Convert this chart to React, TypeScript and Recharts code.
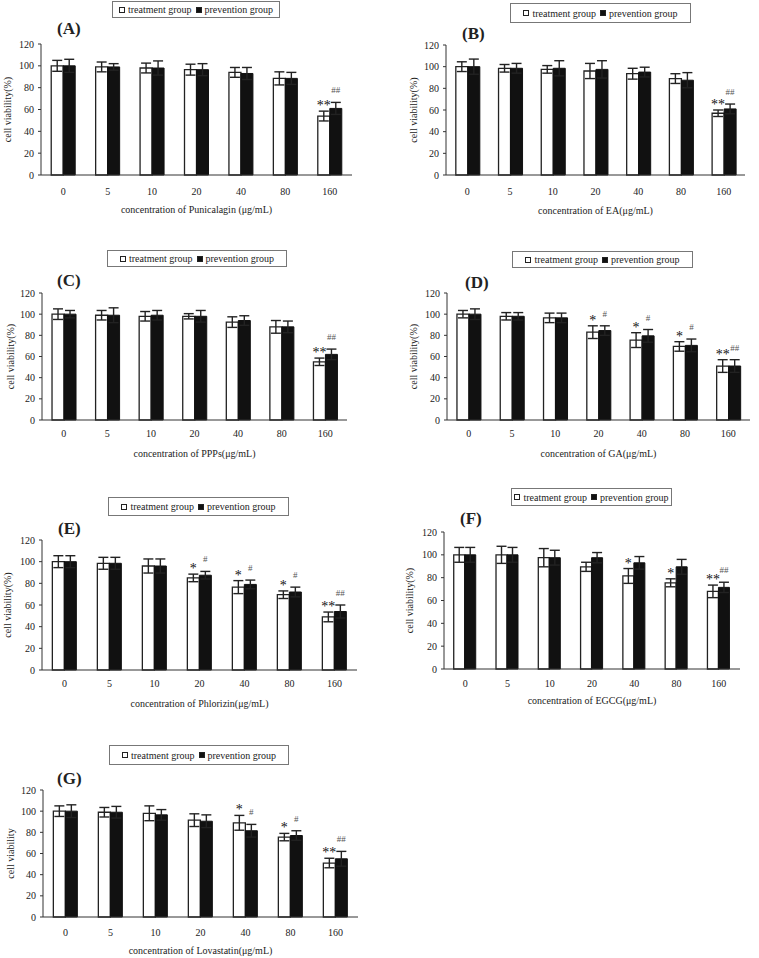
import { BarChart, Bar, XAxis, YAxis, ErrorBar, LabelList, Legend } from 'recharts'

const concentrations = ['0', '5', '10', '20', '40', '80', '160']
const yTicks = [0, 20, 40, 60, 80, 100, 120]
const seriesNames = ['treatment group', 'prevention group']

// (A) Punicalagin
const punTreat = [100, 99, 98, 96.5, 94, 88.5, 54]
const punTreatErr = [5, 4.5, 4.5, 5, 4.5, 6, 4.5]
const punPrev = [100, 99, 98, 96.5, 93, 88.5, 61]
const punPrevErr = [6, 3, 6.5, 5.5, 5.5, 5.5, 5.5]
const punTreatMark = ['', '', '', '', '', '', '**']
const punPrevMark = ['', '', '', '', '', '', '##']

// (B) EA
const eaTreat = [100, 98.5, 97.5, 96, 93.5, 89, 57]
const eaTreatErr = [4.5, 3.5, 3.5, 7, 5, 4.5, 3]
const eaPrev = [100, 98.5, 98.5, 97.5, 95, 87.5, 61]
const eaPrevErr = [7, 4.5, 7, 8, 4.5, 7, 4.5]
const eaTreatMark = ['', '', '', '', '', '', '**']
const eaPrevMark = ['', '', '', '', '', '', '##']

// (C) PPPs
const pppTreat = [100, 99, 98, 98, 92.5, 88, 55]
const pppTreatErr = [5, 4.5, 4.5, 2.5, 5, 6, 3.5]
const pppPrev = [100, 99, 99, 98, 94, 88, 62]
const pppPrevErr = [3.5, 7, 4.5, 5.5, 4.5, 5.5, 5]
const pppTreatMark = ['', '', '', '', '', '', '**']
const pppPrevMark = ['', '', '', '', '', '', '##']

// (D) GA
const gaTreat = [100, 98, 96.5, 83, 75.5, 69.5, 51]
const gaTreatErr = [3.5, 3.5, 4.5, 6, 7, 4.5, 6]
const gaPrev = [100, 98, 96.5, 84.5, 79.5, 70.5, 51]
const gaPrevErr = [5, 3.5, 4.5, 4.5, 6, 6, 6]
const gaTreatMark = ['', '', '', '*', '*', '*', '**']
const gaPrevMark = ['', '', '', '#', '#', '#', '##']

// (E) Phlorizin
const phlTreat = [100, 98.5, 96, 85, 76.5, 69.5, 49]
const phlTreatErr = [5.5, 5.5, 6.5, 3.5, 6, 3.5, 4.5]
const phlPrev = [100, 98.5, 96, 87.5, 79, 72, 54]
const phlPrevErr = [5.5, 5.5, 6.5, 3.5, 4, 4.5, 6]
const phlTreatMark = ['', '', '', '*', '*', '*', '**']
const phlPrevMark = ['', '', '', '#', '#', '#', '##']

// (F) EGCG
const egcgTreat = [100, 100, 97.5, 89.5, 81.5, 75.5, 68]
const egcgTreatErr = [6.5, 7.5, 8, 4, 6.5, 3.5, 5.5]
const egcgPrev = [100, 100, 97.5, 97.5, 93, 89.5, 71.5]
const egcgPrevErr = [6.5, 6.5, 6.5, 4.5, 5.5, 6.5, 4.5]
const egcgTreatMark = ['', '', '', '', '*', '*', '**']
const egcgPrevMark = ['', '', '', '', '', '', '##']

// (G) Lovastatin
const lovTreat = [100, 99, 98, 91.5, 89, 75.5, 51]
const lovTreatErr = [5, 4.5, 7, 6, 7, 3.5, 4.5]
const lovPrev = [100, 99, 96.5, 90.5, 81.5, 77, 55]
const lovPrevErr = [6, 5.5, 5, 6, 6, 4.5, 7]
const lovTreatMark = ['', '', '', '', '*', '*', '**']
const lovPrevMark = ['', '', '', '', '#', '#', '##']

const FONT = '"Liberation Serif", "Times New Roman", serif'
const INK = '#222'

type Row = {
  c: string
  treat: number
  treatErr: number
  prev: number
  prevErr: number
  treatMark: string
  prevMark: string
}

type PanelDef = {
  letter: string
  xTitle: string
  yTitle: string
  treat: number[]
  treatErr: number[]
  prev: number[]
  prevErr: number[]
  treatMark: string[]
  prevMark: string[]
  box: { left: number; top: number; width: number; height: number }
  plot: { x0: number; x1: number; yTop: number; yBot: number }
  legend: { left: number; top: number; width: number; height: number }
  letterPos: { x: number; y: number }
  tickY: number
  titleY: number
  yLabelX: number
}

const panels: PanelDef[] = [
  {
    letter: 'A', xTitle: 'concentration of Punicalagin (μg/mL)', yTitle: 'cell viability(%)',
    treat: punTreat, treatErr: punTreatErr, prev: punPrev, prevErr: punPrevErr, treatMark: punTreatMark, prevMark: punPrevMark,
    box: { left: 0, top: 0, width: 380, height: 220 },
    plot: { x0: 41, x1: 352, yTop: 44, yBot: 175 },
    legend: { left: 112, top: 1, width: 168, height: 17 },
    letterPos: { x: 57, y: 23 }, tickY: 191, titleY: 209, yLabelX: 7,
  },
  {
    letter: 'B', xTitle: 'concentration of EA(μg/mL)', yTitle: 'cell viability(%)',
    treat: eaTreat, treatErr: eaTreatErr, prev: eaPrev, prevErr: eaPrevErr, treatMark: eaTreatMark, prevMark: eaPrevMark,
    box: { left: 380, top: 0, width: 379, height: 220 },
    plot: { x0: 446, x1: 745, yTop: 45, yBot: 175 },
    legend: { left: 510, top: 3, width: 181, height: 20 },
    letterPos: { x: 462, y: 28 }, tickY: 191, titleY: 210, yLabelX: 413,
  },
  {
    letter: 'C', xTitle: 'concentration of PPPs(μg/mL)', yTitle: 'cell viability(%)',
    treat: pppTreat, treatErr: pppTreatErr, prev: pppPrev, prevErr: pppPrevErr, treatMark: pppTreatMark, prevMark: pppPrevMark,
    box: { left: 0, top: 240, width: 380, height: 225 },
    plot: { x0: 42, x1: 347, yTop: 293, yBot: 420 },
    legend: { left: 107, top: 250, width: 180, height: 17 },
    letterPos: { x: 57, y: 275 }, tickY: 433, titleY: 453, yLabelX: 10,
  },
  {
    letter: 'D', xTitle: 'concentration of GA(μg/mL)', yTitle: 'cell viability(%)',
    treat: gaTreat, treatErr: gaTreatErr, prev: gaPrev, prevErr: gaPrevErr, treatMark: gaTreatMark, prevMark: gaPrevMark,
    box: { left: 380, top: 240, width: 379, height: 225 },
    plot: { x0: 447, x1: 750, yTop: 293, yBot: 420 },
    legend: { left: 512, top: 251, width: 181, height: 17 },
    letterPos: { x: 465, y: 277 }, tickY: 433, titleY: 453, yLabelX: 413,
  },
  {
    letter: 'E', xTitle: 'concentration of Phlorizin(μg/mL)', yTitle: 'cell viability(%)',
    treat: phlTreat, treatErr: phlTreatErr, prev: phlPrev, prevErr: phlPrevErr, treatMark: phlTreatMark, prevMark: phlPrevMark,
    box: { left: 0, top: 480, width: 380, height: 235 },
    plot: { x0: 42, x1: 357, yTop: 540, yBot: 670 },
    legend: { left: 108, top: 497, width: 181, height: 19 },
    letterPos: { x: 58, y: 523 }, tickY: 683, titleY: 703, yLabelX: 7,
  },
  {
    letter: 'F', xTitle: 'concentration of EGCG(μg/mL)', yTitle: 'cell viability(%)',
    treat: egcgTreat, treatErr: egcgTreatErr, prev: egcgPrev, prevErr: egcgPrevErr, treatMark: egcgTreatMark, prevMark: egcgPrevMark,
    box: { left: 380, top: 480, width: 379, height: 235 },
    plot: { x0: 444, x1: 740, yTop: 532, yBot: 669 },
    legend: { left: 511, top: 488, width: 161, height: 18 },
    letterPos: { x: 460, y: 513 }, tickY: 683, titleY: 700, yLabelX: 409,
  },
  {
    letter: 'G', xTitle: 'concentration of Lovastatin(μg/mL)', yTitle: 'cell viability',
    treat: lovTreat, treatErr: lovTreatErr, prev: lovPrev, prevErr: lovPrevErr, treatMark: lovTreatMark, prevMark: lovPrevMark,
    box: { left: 0, top: 730, width: 380, height: 228 },
    plot: { x0: 43, x1: 358, yTop: 790, yBot: 917 },
    legend: { left: 109, top: 745, width: 180, height: 20 },
    letterPos: { x: 57, y: 773 }, tickY: 932, titleY: 950, yLabelX: 10,
  },
]

// significance marks sit a little above the error bar cap
const markLabel = (rows: Row[], valKey: 'treat' | 'prev', errKey: 'treatErr' | 'prevErr') => (props: any) => {
  const vb = props.viewBox ?? props
  const { x, y, width, height } = vb
  const value = props.value
  if (!value || x == null) return null
  const row = rows[props.index]
  if (!row) return null
  const ppu = Math.abs(height) / row[valKey]
  const capY = y - row[errKey] * ppu
  const isStar = String(value).includes('*')
  return (
    <text
      x={x + width / 2}
      y={isStar ? capY - 1 : capY - 9}
      textAnchor="middle"
      fontFamily={FONT}
      fontSize={isStar ? 14 : 9}
      fill={isStar ? '#111' : '#555'}
    >
      {value}
    </text>
  )
}

const LegendBox = ({ width, height }: { width: number; height: number }) => (
  <div
    style={{
      width, height, boxSizing: 'border-box', border: '1px solid #777', background: '#fff',
      display: 'flex', alignItems: 'center', justifyContent: 'center',
      fontFamily: FONT, fontSize: 10, color: INK, whiteSpace: 'nowrap',
    }}
  >
    {seriesNames.map((name, i) => (
      <span key={name} style={{ display: 'flex', alignItems: 'center', marginRight: i === 0 ? 4 : 0 }}>
        <span
          style={{
            display: 'inline-block', width: 6, height: 6, boxSizing: 'border-box',
            border: `1.5px solid ${INK}`, background: i === 0 ? '#fff' : '#111', marginRight: 3,
          }}
        />
        {name}
      </span>
    ))}
  </div>
)

function Panel({ p }: { p: PanelDef }) {
  const rows: Row[] = concentrations.map((c, i) => ({
    c,
    treat: p.treat[i],
    treatErr: p.treatErr[i],
    prev: p.prev[i],
    prevErr: p.prevErr[i],
    treatMark: p.treatMark[i],
    prevMark: p.prevMark[i],
  }))
  const { box, plot } = p
  const yAxisW = plot.x0 - box.left
  const xAxisH = box.top + box.height - plot.yBot
  const tickStyle = { fill: INK, fontSize: 10, fontFamily: FONT }

  return (
    <div style={{ position: 'absolute', left: box.left, top: box.top, width: box.width, height: box.height }}>
      <BarChart
        width={box.width}
        height={box.height}
        data={rows}
        margin={{ top: plot.yTop - box.top, right: box.left + box.width - plot.x1, bottom: 0, left: 0 }}
        barCategoryGap="23%"
        barGap={0}
      >
        <XAxis
          dataKey="c"
          height={xAxisH}
          axisLine={{ stroke: '#333' }}
          tickLine={false}
          tickSize={0}
          tickMargin={p.tickY - 3.5 - plot.yBot}
          tick={tickStyle}
          interval={0}
          label={{
            value: p.xTitle,
            position: 'insideBottom',
            offset: box.top + box.height - (p.titleY + 3.5),
            style: { fill: INK, fontSize: 10, fontFamily: FONT },
          }}
        />
        <YAxis
          width={yAxisW}
          domain={[0, 120]}
          ticks={yTicks}
          interval={0}
          axisLine={{ stroke: '#333' }}
          tickLine={{ stroke: '#333' }}
          tickSize={3}
          tickMargin={4}
          tick={tickStyle}
          label={{
            value: p.yTitle,
            angle: -90,
            position: 'insideLeft',
            offset: p.yLabelX - box.left,
            style: { textAnchor: 'middle', fill: INK, fontSize: 10, fontFamily: FONT },
          }}
        />
        <Legend
          layout="horizontal"
          align="center"
          verticalAlign="middle"
          wrapperStyle={{ left: p.legend.left - box.left, top: p.legend.top - box.top, width: p.legend.width }}
          content={() => <LegendBox width={p.legend.width} height={p.legend.height} />}
        />
        <Bar dataKey="treat" name={seriesNames[0]} fill="#fff" stroke={INK} strokeWidth={1.3} isAnimationActive={false}>
          <ErrorBar dataKey="treatErr" width={5} stroke={INK} strokeWidth={1.4} />
          <LabelList dataKey="treatMark" content={markLabel(rows, 'treat', 'treatErr')} />
        </Bar>
        <Bar dataKey="prev" name={seriesNames[1]} fill="#111" stroke="#111" strokeWidth={1} isAnimationActive={false}>
          <ErrorBar dataKey="prevErr" width={5} stroke={INK} strokeWidth={1.4} />
          <LabelList dataKey="prevMark" content={markLabel(rows, 'prev', 'prevErr')} />
        </Bar>
      </BarChart>
      <div
        style={{
          position: 'absolute', left: p.letterPos.x - box.left, top: p.letterPos.y - box.top - 3,
          fontFamily: FONT, fontWeight: 'bold', fontSize: 17, lineHeight: 1, color: INK,
        }}
      >
        ({p.letter})
      </div>
    </div>
  )
}

export default function App() {
  return (
    <div style={{ position: 'absolute', left: 0, top: 0, width: 759, height: 958, background: '#fff' }}>
      {panels.map((p) => (
        <Panel key={p.letter} p={p} />
      ))}
    </div>
  )
}
